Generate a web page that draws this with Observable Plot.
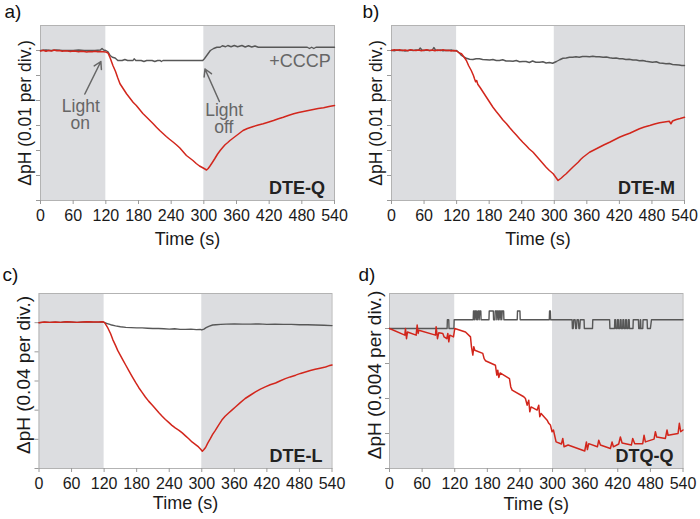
<!DOCTYPE html>
<html><head><meta charset="utf-8">
<script src="https://cdn.jsdelivr.net/npm/d3@7"></script>
<script src="https://cdn.jsdelivr.net/npm/@observablehq/plot@0.6"></script>
<style>
body{margin:0;background:#fff;}
#fig{position:relative;width:700px;height:519px;overflow:hidden;}
.panel{position:absolute;}
</style></head><body><div id="fig"></div>
<script>
// Time axis (s)
const timeTicks = [0,60,120,180,240,300,360,420,480,540];
const darkPeriods = [{start:0,end:120},{start:300,end:540}];
const panelTags = ["a)","b)","c)","d)"];
const sampleNames = ["DTE-Q","DTE-M","DTE-L","DTQ-Q"];
const yTitles = ["ΔpH (0.01 per div.)","ΔpH (0.01 per div.)","ΔpH (0.04 per div.)","ΔpH (0.004 per div.)"];
const divisionsBelow = [6,6,5,4];

// values in divisions of the y axis, [time (s), ΔpH (div)]
const redA = [[0,-0.02],[5,0.01],[10,-0.03],[15,0],[20,-0.02],[25,0.02],[30,-0.01],[35,0],[40,-0.03],[45,-0.01],[50,-0.02],[55,-0.04],[60,-0.02],[65,-0.03],[70,-0.05],[75,-0.03],[80,-0.04],[85,-0.06],[90,-0.04],[95,-0.05],[100,-0.03],[105,-0.05],[110,-0.04],[115,-0.05],[120,-0.06],[124,-0.1],[128,-0.3],[133,-0.6],[138,-0.85],[142,-1.1],[146,-1.33],[152,-1.53],[158,-1.73],[164,-1.9],[170,-2.07],[176,-2.2],[182,-2.36],[188,-2.52],[195,-2.67],[201,-2.8],[207,-2.93],[213,-3.07],[219,-3.2],[225,-3.32],[231,-3.44],[237,-3.55],[244,-3.67],[250,-3.78],[256,-3.9],[262,-4.05],[268,-4.2],[274,-4.3],[280,-4.4],[286,-4.52],[292,-4.62],[298,-4.69],[302,-4.74],[305,-4.78],[308,-4.72],[311,-4.63],[315,-4.5],[320,-4.33],[325,-4.15],[330,-4.0],[335,-3.87],[339,-3.77],[344,-3.68],[348,-3.6],[354,-3.5],[360,-3.4],[366,-3.3],[372,-3.2],[380,-3.12],[391,-3.04],[400,-2.98],[409,-2.93],[418,-2.87],[428,-2.8],[437,-2.73],[446,-2.67],[455,-2.6],[465,-2.53],[474,-2.48],[483,-2.44],[492,-2.4],[501,-2.36],[510,-2.32],[520,-2.29],[530,-2.24],[540,-2.2]];
const grayA = [[0,0],[10,0.02],[20,0],[30,0.02],[40,0],[60,0],[70,0.02],[80,0],[100,0],[110,0.02],[113,0.08],[116,0.02],[120,0],[124,-0.05],[128,-0.2],[132,-0.27],[137,-0.3],[142,-0.4],[150,-0.4],[155,-0.36],[160,-0.4],[170,-0.4],[172,-0.33],[175,-0.4],[185,-0.4],[190,-0.44],[195,-0.4],[205,-0.4],[210,-0.44],[215,-0.4],[220,-0.4],[222,-0.44],[225,-0.4],[298,-0.4],[301,-0.33],[304,-0.24],[308,-0.12],[312,0],[318,0.08],[324,0.13],[330,0.13],[334,0.19],[340,0.15],[344,0.2],[350,0.15],[356,0.2],[362,0.15],[370,0.2],[376,0.14],[382,0.19],[388,0.14],[394,0.18],[400,0.13],[490,0.13],[494,0.08],[498,0.13],[502,0.08],[506,0.13],[540,0.13]];
const redB = [[0,0],[5,0.03],[10,0.01],[15,0.03],[20,0],[25,0.02],[30,-0.01],[35,0.03],[40,0.01],[45,0],[50,0.02],[55,-0.01],[60,0.01],[65,0.03],[70,0],[75,0.02],[80,-0.01],[85,0.02],[90,0],[95,0.03],[100,0],[105,0.01],[110,-0.02],[115,0],[120,-0.02],[125,-0.1],[129,-0.13],[134,-0.27],[138,-0.4],[142,-0.6],[147,-0.8],[151,-1.0],[153,-1.13],[155,-1.25],[157,-1.2],[159,-1.35],[163,-1.47],[169,-1.67],[175,-1.87],[181,-2.07],[187,-2.27],[193,-2.44],[199,-2.6],[205,-2.77],[212,-2.93],[218,-3.09],[224,-3.24],[230,-3.38],[236,-3.53],[242,-3.67],[248,-3.8],[254,-3.94],[261,-4.07],[267,-4.22],[273,-4.37],[279,-4.52],[285,-4.67],[291,-4.8],[298,-4.93],[303,-5.08],[307,-5.2],[310,-5.15],[313,-5.1],[318,-5.0],[322,-4.93],[328,-4.8],[334,-4.67],[339,-4.57],[344,-4.47],[349,-4.35],[353,-4.27],[359,-4.17],[365,-4.07],[374,-3.97],[383,-3.87],[392,-3.77],[402,-3.67],[411,-3.57],[420,-3.47],[429,-3.39],[439,-3.31],[448,-3.22],[457,-3.13],[466,-3.06],[476,-3.0],[485,-2.94],[494,-2.89],[503,-2.86],[512,-2.83],[515,-2.93],[518,-2.82],[525,-2.76],[532,-2.72],[540,-2.67]];
const grayB = [[0,0.01],[5,-0.01],[10,0.02],[15,0],[20,0.01],[25,-0.02],[30,0],[35,0.02],[40,0],[45,0.02],[50,0.01],[53,0.1],[56,0.02],[60,0],[65,0.02],[70,0],[75,0.01],[78,0.12],[81,0.02],[85,0],[90,0.02],[95,-0.01],[100,0.01],[105,0],[110,0.02],[115,-0.01],[120,0],[125,-0.1],[129,-0.2],[134,-0.27],[138,-0.31],[144,-0.35],[150,-0.36],[156,-0.33],[162,-0.33],[168,-0.36],[175,-0.37],[181,-0.38],[187,-0.36],[193,-0.4],[199,-0.4],[205,-0.37],[211,-0.42],[218,-0.42],[224,-0.43],[230,-0.4],[236,-0.45],[242,-0.44],[248,-0.44],[254,-0.48],[260,-0.42],[266,-0.47],[273,-0.47],[279,-0.45],[285,-0.5],[291,-0.48],[297,-0.51],[300,-0.48],[304,-0.44],[310,-0.37],[316,-0.31],[322,-0.3],[328,-0.27],[334,-0.27],[340,-0.25],[346,-0.27],[352,-0.24],[359,-0.24],[365,-0.25],[371,-0.23],[377,-0.25],[383,-0.25],[390,-0.27],[396,-0.26],[402,-0.29],[408,-0.31],[414,-0.3],[420,-0.33],[426,-0.33],[432,-0.36],[438,-0.35],[445,-0.38],[451,-0.38],[457,-0.41],[463,-0.4],[469,-0.43],[475,-0.45],[481,-0.47],[488,-0.45],[494,-0.5],[500,-0.51],[506,-0.53],[512,-0.52],[518,-0.56],[524,-0.57],[530,-0.58],[535,-0.6],[540,-0.6]];
const redC = [[0,0],[10,0.02],[20,0.01],[30,0.02],[40,0.01],[50,0.03],[60,0.02],[70,0.01],[80,0.02],[90,0.03],[100,0.02],[110,0.02],[118,0.03],[121,0],[126,-0.15],[132,-0.38],[136,-0.58],[141,-0.78],[145,-0.95],[150,-1.12],[155,-1.29],[160,-1.46],[166,-1.66],[172,-1.86],[178,-2.05],[184,-2.23],[190,-2.39],[196,-2.55],[202,-2.69],[209,-2.83],[215,-2.96],[221,-3.09],[227,-3.21],[233,-3.32],[239,-3.42],[245,-3.52],[251,-3.61],[258,-3.69],[264,-3.78],[270,-3.88],[276,-3.98],[282,-4.09],[288,-4.17],[294,-4.26],[298,-4.34],[301,-4.41],[304,-4.35],[307,-4.28],[311,-4.13],[316,-3.97],[320,-3.83],[325,-3.69],[331,-3.51],[337,-3.34],[343,-3.21],[350,-3.09],[356,-2.99],[362,-2.89],[371,-2.74],[380,-2.6],[390,-2.48],[399,-2.37],[408,-2.28],[417,-2.2],[426,-2.13],[436,-2.07],[445,-1.99],[454,-1.92],[463,-1.86],[473,-1.8],[482,-1.74],[491,-1.69],[500,-1.64],[509,-1.6],[518,-1.56],[528,-1.52],[534,-1.48],[540,-1.45]];
const grayC = [[0,0],[10,0.02],[20,0.01],[30,0.02],[40,0.01],[50,0.03],[60,0.02],[70,0.01],[80,0.02],[90,0.03],[100,0.02],[110,0.02],[118,0.03],[121,0],[126,-0.03],[132,-0.07],[141,-0.11],[150,-0.14],[160,-0.16],[170,-0.17],[180,-0.18],[190,-0.18],[200,-0.19],[210,-0.2],[220,-0.2],[230,-0.21],[240,-0.22],[250,-0.21],[260,-0.23],[270,-0.23],[280,-0.22],[290,-0.24],[297,-0.23],[300,-0.25],[304,-0.22],[308,-0.17],[314,-0.12],[320,-0.08],[326,-0.07],[335,-0.06],[345,-0.05],[360,-0.04],[375,-0.05],[390,-0.05],[405,-0.04],[420,-0.06],[435,-0.05],[450,-0.06],[465,-0.06],[480,-0.07],[495,-0.07],[510,-0.08],[525,-0.09],[540,-0.1]];
const redD = [[0,0],[28.2,-0.19],[29.4,0],[31.3,-0.29],[33.1,-0.1],[49,-0.19],[50.9,0.1],[52.7,-0.14],[53.9,-0.05],[84.6,-0.19],[85.8,0.05],[88.3,-0.29],[90.7,-0.12],[98.1,-0.14],[100.5,-0.24],[105.4,-0.29],[107.3,-0.14],[109.1,-0.38],[111,-0.19],[117.7,-0.24],[120.1,0],[139.8,-0.1],[149,-0.24],[150.8,-0.52],[153.3,-0.76],[155.1,-0.52],[156.9,-0.62],[171.6,-0.71],[174.1,-0.86],[176.5,-0.92],[194.9,-1.05],[197.4,-1.33],[199.2,-1.19],[201.1,-1.4],[203.5,-1.27],[220.7,-1.43],[223.1,-1.67],[225.6,-1.76],[247,-1.95],[250.1,-2.0],[253.2,-2.19],[256.2,-2.05],[258.1,-2.38],[260.5,-2.24],[271.6,-2.33],[274.6,-2.19],[276.5,-2.52],[278.9,-2.43],[290,-2.62],[293,-2.71],[296.1,-2.76],[299.1,-2.95],[301.6,-2.9],[306.5,-3.24],[316.3,-3.3],[318.8,-3.14],[321.2,-3.38],[328.6,-3.33],[359.2,-3.5],[362.3,-3.24],[364.1,-3.46],[366.6,-3.29],[382.5,-3.38],[385,-3.19],[388,-3.33],[406.4,-3.43],[409.5,-3.24],[411.9,-3.38],[421.7,-3.3],[424.8,-3.1],[427.9,-3.27],[445,-3.33],[447.5,-3.14],[451.2,-3.29],[465.9,-3.29],[468.3,-3.05],[470.8,-3.24],[486.7,-3.16],[489.2,-2.95],[491.6,-3.1],[507.6,-3.14],[510.6,-2.9],[512.5,-3.05],[530.9,-3.0],[533.3,-2.71],[535.8,-2.95],[540,-2.9]];
const grayD = [[0,0],[106,0],[106.5,0.25],[109,0.25],[109.5,0],[118.5,0],[119,0.25],[154,0.25],[154.5,0.5],[156,0.5],[156.5,0.25],[157.5,0.5],[159,0.5],[159.5,0.25],[160.5,0.5],[162,0.25],[163,0.5],[164.5,0.5],[165,0.25],[166,0.5],[168,0.5],[168.5,0.25],[183,0.25],[183.5,0.5],[191,0.5],[191.5,0.25],[194,0.25],[194.5,0.5],[197,0.5],[197.5,0.25],[198.5,0.5],[200,0.5],[200.5,0.25],[201.5,0.5],[203,0.5],[203.5,0.25],[204.5,0.5],[206,0.5],[206.5,0.25],[207.5,0.5],[210,0.5],[210.5,0.25],[235,0.25],[235.5,0.5],[240,0.5],[240.5,0.25],[294,0.25],[294.5,0.5],[296,0.5],[296.5,0.25],[336,0.25],[336.5,0],[338,0],[339,0.25],[341.5,0.25],[342.5,0],[344,0],[345,0.25],[347.5,0.25],[348.5,0],[350,0],[351,0.25],[358,0.25],[358.5,0],[373.5,0],[374,0.25],[405,0.25],[405.5,0],[414,0],[414.5,0.25],[416,0.25],[416.5,0],[419,0],[419.5,0.25],[421,0.25],[421.5,0],[424,0],[424.5,0.25],[426,0.25],[426.5,0],[429,0],[429.5,0.25],[431,0.25],[431.5,0],[434,0],[434.5,0.25],[436,0.25],[436.5,0],[439,0],[439.5,0.25],[441,0.25],[441.5,0],[448,0],[448.5,0.25],[458,0.25],[458.5,0],[461,0],[461.5,0.25],[462,0.25],[462.5,0],[466,0],[466.5,0.25],[474,0.25],[474.5,0],[480,0],[482,0.25],[540,0.25]];

// Annotations of panel a
const lightArrows = [{x1:81.4,y1:-1.74,x2:110.9,y2:-0.44},{x1:328.6,y1:-2.04,x2:302.1,y2:-0.74}];
const lightWord = [{x:74,y:-2.44,text:"Light"},{x:337.4,y:-2.6,text:"Light"}];
const stateWord = [{x:73,y:-3.12,text:"on"},{x:336.5,y:-3.3,text:"off"}];
const cccpLabel = [{x:533,y:-0.66,text:"+CCCP"}];

const seriesRed = [redA, redB, redC, redD];
const seriesGray = [grayA, grayB, grayC, grayD];

const FONT = '"Liberation Sans", Arial, Helvetica, sans-serif';
const NARROW = '"Liberation Sans Narrow", "Arial Narrow", "Liberation Sans", Arial, sans-serif';
const layout = [
  {left:0, top:0, h:260, m:[25,16,60,40], tagX:4, tagBase:17.5, titleSize:17.5, titleDy:0, xTitleDy:44},
  {left:350, top:0, h:260, m:[25,16,60,41], tagX:12, tagBase:17.5, titleSize:17.5, titleDy:0, xTitleDy:44},
  {left:0, top:260, h:259, m:[33,18.5,51,38.5], tagX:2, tagBase:20, titleSize:19, titleDy:-6, xTitleDy:40},
  {left:350, top:260, h:259, m:[33,17.5,51,39], tagX:8, tagBase:20, titleSize:19, titleDy:-6, xTitleDy:41}
];

const fig = document.getElementById("fig");
layout.forEach((L, i) => {
  const [mt, mr, mb, ml] = L.m;
  const yTicks = d3.range(0, -divisionsBelow[i] - 1, -1);
  const marks = [
    Plot.barX(darkPeriods, {x1:"start", x2:"end", fill:"#dcdde0"}),
    Plot.frame({stroke:"#b3b3b3", strokeWidth:1}),
    Plot.axisY({ticks:yTicks, tickSize:4, tickFormat:() => "", stroke:"#9a9a9a", label:null}),
    Plot.axisX({ticks:timeTicks, tickSize:4, tickPadding:5, tickFormat:d => String(d), fontSize:16, fontFamily:NARROW, fill:"#1a1a1a", stroke:"#9a9a9a", label:null}),
    Plot.line(seriesGray[i], {x:d => d[0], y:d => d[1], stroke:"#575757", strokeWidth:1.4}),
    Plot.line(seriesRed[i], {x:d => d[0], y:d => d[1], stroke:"#d2261c", strokeWidth:1.5}),
    Plot.text([sampleNames[i]], {frameAnchor:"bottom-right", dx:-9.5, dy:-7, lineAnchor:"bottom", textAnchor:"end", fontSize:18, fontWeight:"bold", fill:"#222"}),
    Plot.text([panelTags[i]], {frameAnchor:"top-left", dx:L.tagX - ml, dy:L.tagBase - mt, lineAnchor:"bottom", textAnchor:"start", fontSize:19, fill:"#111"}),
    Plot.text([yTitles[i]], {frameAnchor:"left", rotate:-90, textAnchor:"middle", lineAnchor:"middle", dx:-15, dy:L.titleDy, fontSize:L.titleSize, fill:"#1a1a1a"}),
    Plot.text(["Time (s)"], {frameAnchor:"bottom", textAnchor:"middle", dy:L.xTitleDy, lineAnchor:"bottom", fontSize:18, fill:"#1a1a1a"})
  ];
  if (i === 0) {
    marks.push(
      Plot.arrow(lightArrows, {x1:"x1", y1:"y1", x2:"x2", y2:"y2", stroke:"#666", strokeWidth:1.5, headLength:8}),
      Plot.text(lightWord, {x:"x", y:"y", text:"text", lineAnchor:"bottom", textAnchor:"middle", fontSize:17.5, fill:"#666"}),
      Plot.text(stateWord, {x:"x", y:"y", text:"text", lineAnchor:"bottom", textAnchor:"middle", fontSize:17.5, fill:"#666"}),
      Plot.text(cccpLabel, {x:"x", y:"y", text:"text", lineAnchor:"bottom", textAnchor:"end", fontSize:18, fill:"#666"})
    );
  }
  const svg = Plot.plot({
    width:350, height:L.h,
    marginTop:mt, marginRight:mr, marginBottom:mb, marginLeft:ml,
    x:{domain:[0,540]},
    y:{domain:[-divisionsBelow[i], 1]},
    style:{fontFamily:FONT, background:"transparent", overflow:"visible", color:"#1a1a1a"},
    marks
  });
  const wrap = document.createElement("div");
  wrap.className = "panel";
  wrap.style.left = L.left + "px";
  wrap.style.top = L.top + "px";
  wrap.appendChild(svg);
  fig.appendChild(wrap);
});
</script>
</body></html>
